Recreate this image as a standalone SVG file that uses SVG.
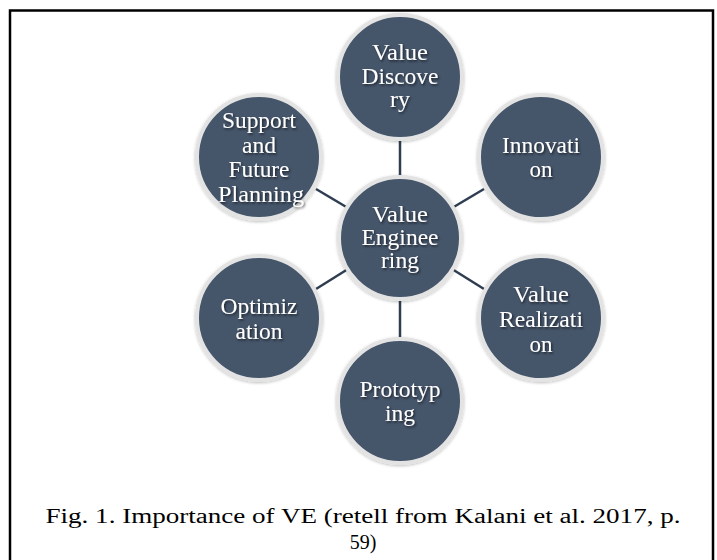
<svg xmlns="http://www.w3.org/2000/svg" width="717" height="560" viewBox="0 0 717 560">
<defs>
<filter id="ts" x="-20%" y="-20%" width="140%" height="160%"><feDropShadow dx="1.2" dy="1.5" stdDeviation="1" flood-color="#000" flood-opacity="0.6"/></filter>
<filter id="cs" x="-20%" y="-20%" width="140%" height="140%"><feDropShadow dx="0" dy="1" stdDeviation="1.5" flood-color="#000" flood-opacity="0.25"/></filter>
</defs>
<style>
.n{fill:#44546a;stroke:#e3e3e3;stroke-width:4;filter:url(#cs)}
.t{font-family:'Liberation Serif','Times New Roman',Times,serif;font-size:23px;fill:#fff;text-anchor:middle;filter:url(#ts)}
.c{stroke:#2f3d50;stroke-width:2.5;fill:none}
.cap{font-family:'Liberation Serif','Times New Roman',Times,serif;font-size:20px;fill:#000;text-anchor:middle}
</style>
<rect x="10" y="10.5" width="703" height="600" fill="#fff" stroke="#000" stroke-width="2.5"/>
<g id="connectors">
<line class="c" x1="400" y1="140" x2="400" y2="178"/>
<line class="c" x1="400" y1="299" x2="400" y2="339"/>
<line class="c" x1="316" y1="189" x2="348" y2="208"/>
<line class="c" x1="484" y1="189" x2="452" y2="208"/>
<line class="c" x1="316" y1="289" x2="348" y2="269"/>
<line class="c" x1="484" y1="289" x2="452" y2="269"/>
</g>
<g id="value-discovery"><circle class="n" cx="400" cy="77" r="62"/>
<text class="t" x="400" y="60" textLength="56" lengthAdjust="spacingAndGlyphs">Value</text><text class="t" x="400" y="84" textLength="77" lengthAdjust="spacingAndGlyphs">Discove</text><text class="t" x="400" y="107" textLength="20" lengthAdjust="spacingAndGlyphs">ry</text></g>
<g id="value-engineering"><circle class="n" cx="400" cy="238" r="61"/>
<text class="t" x="400" y="222" textLength="56" lengthAdjust="spacingAndGlyphs">Value</text><text class="t" x="400" y="245" textLength="77" lengthAdjust="spacingAndGlyphs">Enginee</text><text class="t" x="400" y="268" textLength="38" lengthAdjust="spacingAndGlyphs">ring</text></g>
<g id="innovation"><circle class="n" cx="541" cy="157" r="62"/>
<text class="t" x="541" y="153" textLength="78" lengthAdjust="spacingAndGlyphs">Innovati</text><text class="t" x="541" y="177" textLength="23" lengthAdjust="spacingAndGlyphs">on</text></g>
<g id="support"><circle class="n" cx="259" cy="157" r="62"/>
<text class="t" x="259" y="128" textLength="74" lengthAdjust="spacingAndGlyphs">Support</text><text class="t" x="259" y="153" textLength="34" lengthAdjust="spacingAndGlyphs">and</text><text class="t" x="259" y="177" textLength="61" lengthAdjust="spacingAndGlyphs">Future</text><text class="t" x="261" y="202" textLength="86" lengthAdjust="spacingAndGlyphs">Planning</text></g>
<g id="optimization"><circle class="n" cx="259" cy="318" r="62"/>
<text class="t" x="259" y="314" textLength="77" lengthAdjust="spacingAndGlyphs">Optimiz</text><text class="t" x="259" y="339" textLength="47" lengthAdjust="spacingAndGlyphs">ation</text></g>
<g id="value-realization"><circle class="n" cx="541" cy="318" r="62"/>
<text class="t" x="541" y="302" textLength="56" lengthAdjust="spacingAndGlyphs">Value</text><text class="t" x="541" y="327" textLength="84" lengthAdjust="spacingAndGlyphs">Realizati</text><text class="t" x="541" y="352" textLength="23" lengthAdjust="spacingAndGlyphs">on</text></g>
<g id="prototyping"><circle class="n" cx="400" cy="401" r="62"/>
<text class="t" x="400" y="397" textLength="81" lengthAdjust="spacingAndGlyphs">Prototyp</text><text class="t" x="400" y="421" textLength="30" lengthAdjust="spacingAndGlyphs">ing</text></g>
<text class="cap" x="363" y="523" textLength="635" lengthAdjust="spacingAndGlyphs">Fig. 1. Importance of VE (retell from Kalani et al. 2017, p.</text>
<text class="cap" x="363" y="549">59)</text>
</svg>
